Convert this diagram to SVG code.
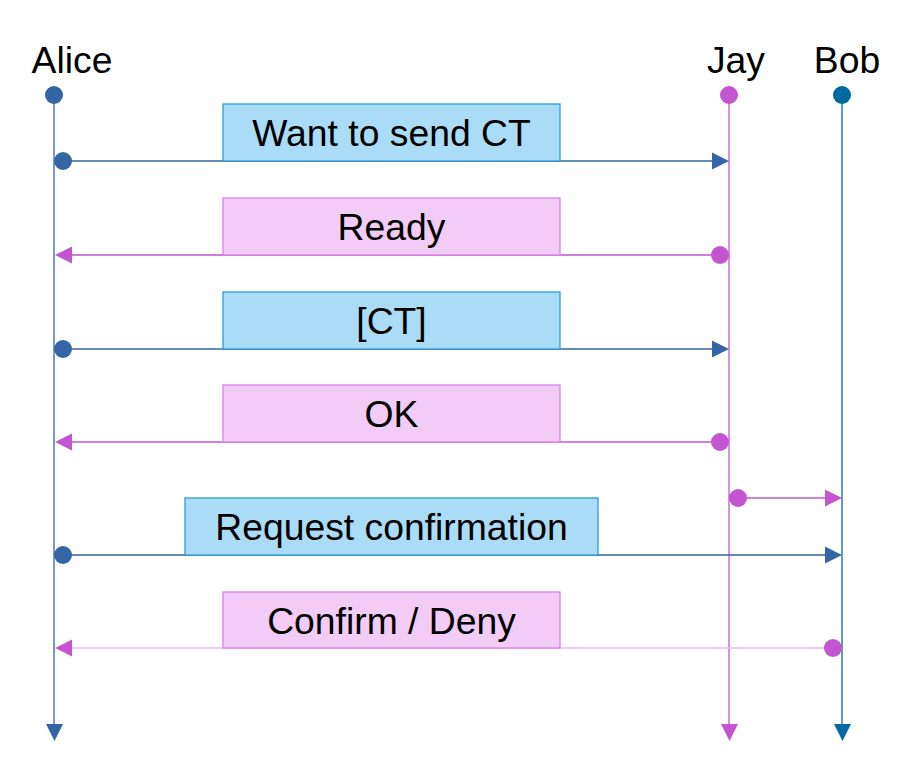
<svg xmlns="http://www.w3.org/2000/svg" width="908" height="776" viewBox="0 0 908 776">
<style>
text{font-family:"Liberation Sans",Arial,sans-serif;font-size:37.3px;fill:#000;text-anchor:middle}
.bb{fill:#aadcf7;stroke:#2a9ed8;stroke-width:1.3}
.pb{fill:#f2cbf6;stroke:#dc80e8;stroke-width:1.3}
.la{stroke:#3465a4;stroke-width:1.3;fill:none}
.lj{stroke:#c355d1;stroke-width:1.3;fill:none}
.lb{stroke:#0369a3;stroke-width:1.3;fill:none}
.ll{stroke:#ebb4f3;stroke-width:1.3;fill:none}
.ca{fill:#3465a4}
.cj{fill:#c355d1}
.cb{fill:#0369a3}
</style>
<rect width="908" height="776" fill="#fff"/>
<g id="alice">
<text x="72" y="72.5">Alice</text>
<line class="la" x1="54" y1="95" x2="54" y2="726"/>
<circle class="ca" cx="54" cy="95" r="9"/>
<polygon class="ca" points="46,724 63,724 54.5,741"/>
</g>
<g id="jay">
<text x="736" y="72.5">Jay</text>
<line class="lj" x1="729" y1="95" x2="729" y2="726"/>
<circle class="cj" cx="729" cy="95" r="9"/>
<polygon class="cj" points="721,724 738,724 729.5,741"/>
</g>
<g id="bob">
<text x="847" y="72.5">Bob</text>
<line class="lb" x1="842" y1="95" x2="842" y2="726"/>
<circle class="cb" cx="842" cy="95" r="9"/>
<polygon class="cb" points="834,724 851,724 842.5,741"/>
</g>
<g id="connectors">
<line class="la" x1="63" y1="161" x2="714" y2="161"/>
<circle class="ca" cx="63" cy="161" r="9"/>
<polygon class="ca" points="712,152.5 729,161 712,169.5"/>
<line class="lj" x1="70" y1="255" x2="720" y2="255"/>
<circle class="cj" cx="720" cy="255" r="9"/>
<polygon class="cj" points="72,246.5 55,255 72,263.5"/>
<line class="la" x1="63" y1="349" x2="714" y2="349"/>
<circle class="ca" cx="63" cy="349" r="9"/>
<polygon class="ca" points="712,340.5 729,349 712,357.5"/>
<line class="lj" x1="70" y1="442" x2="720" y2="442"/>
<circle class="cj" cx="720" cy="442" r="9"/>
<polygon class="cj" points="72,433.5 55,442 72,450.5"/>
<line class="lj" x1="738" y1="498" x2="827" y2="498"/>
<circle class="cj" cx="738" cy="498" r="9"/>
<polygon class="cj" points="825,489.5 842,498 825,506.5"/>
<line class="la" x1="63" y1="555" x2="827" y2="555"/>
<circle class="ca" cx="63" cy="555" r="9"/>
<polygon class="ca" points="825,546.5 842,555 825,563.5"/>
<line class="ll" x1="70" y1="648" x2="833" y2="648"/>
<circle class="cj" cx="833" cy="648" r="9"/>
<polygon class="cj" points="72,639.5 55,648 72,656.5"/>
</g>
<g id="msg1"><rect class="bb" x="223" y="104" width="337" height="57"/><text x="391.5" y="145.5">Want to send CT</text></g>
<g id="msg2"><rect class="pb" x="223" y="198" width="337" height="57"/><text x="391.5" y="239.5">Ready</text></g>
<g id="msg3"><rect class="bb" x="223" y="292" width="337" height="57"/><text x="391.5" y="333.5">[CT]</text></g>
<g id="msg4"><rect class="pb" x="223" y="385" width="337" height="57"/><text x="391.5" y="426.5">OK</text></g>
<g id="msg5"><rect class="bb" x="185" y="498" width="413" height="57"/><text x="391.5" y="539.5">Request confirmation</text></g>
<g id="msg6"><rect class="pb" x="223" y="592" width="337" height="56"/><text x="391.5" y="633.5">Confirm / Deny</text></g>
</svg>
